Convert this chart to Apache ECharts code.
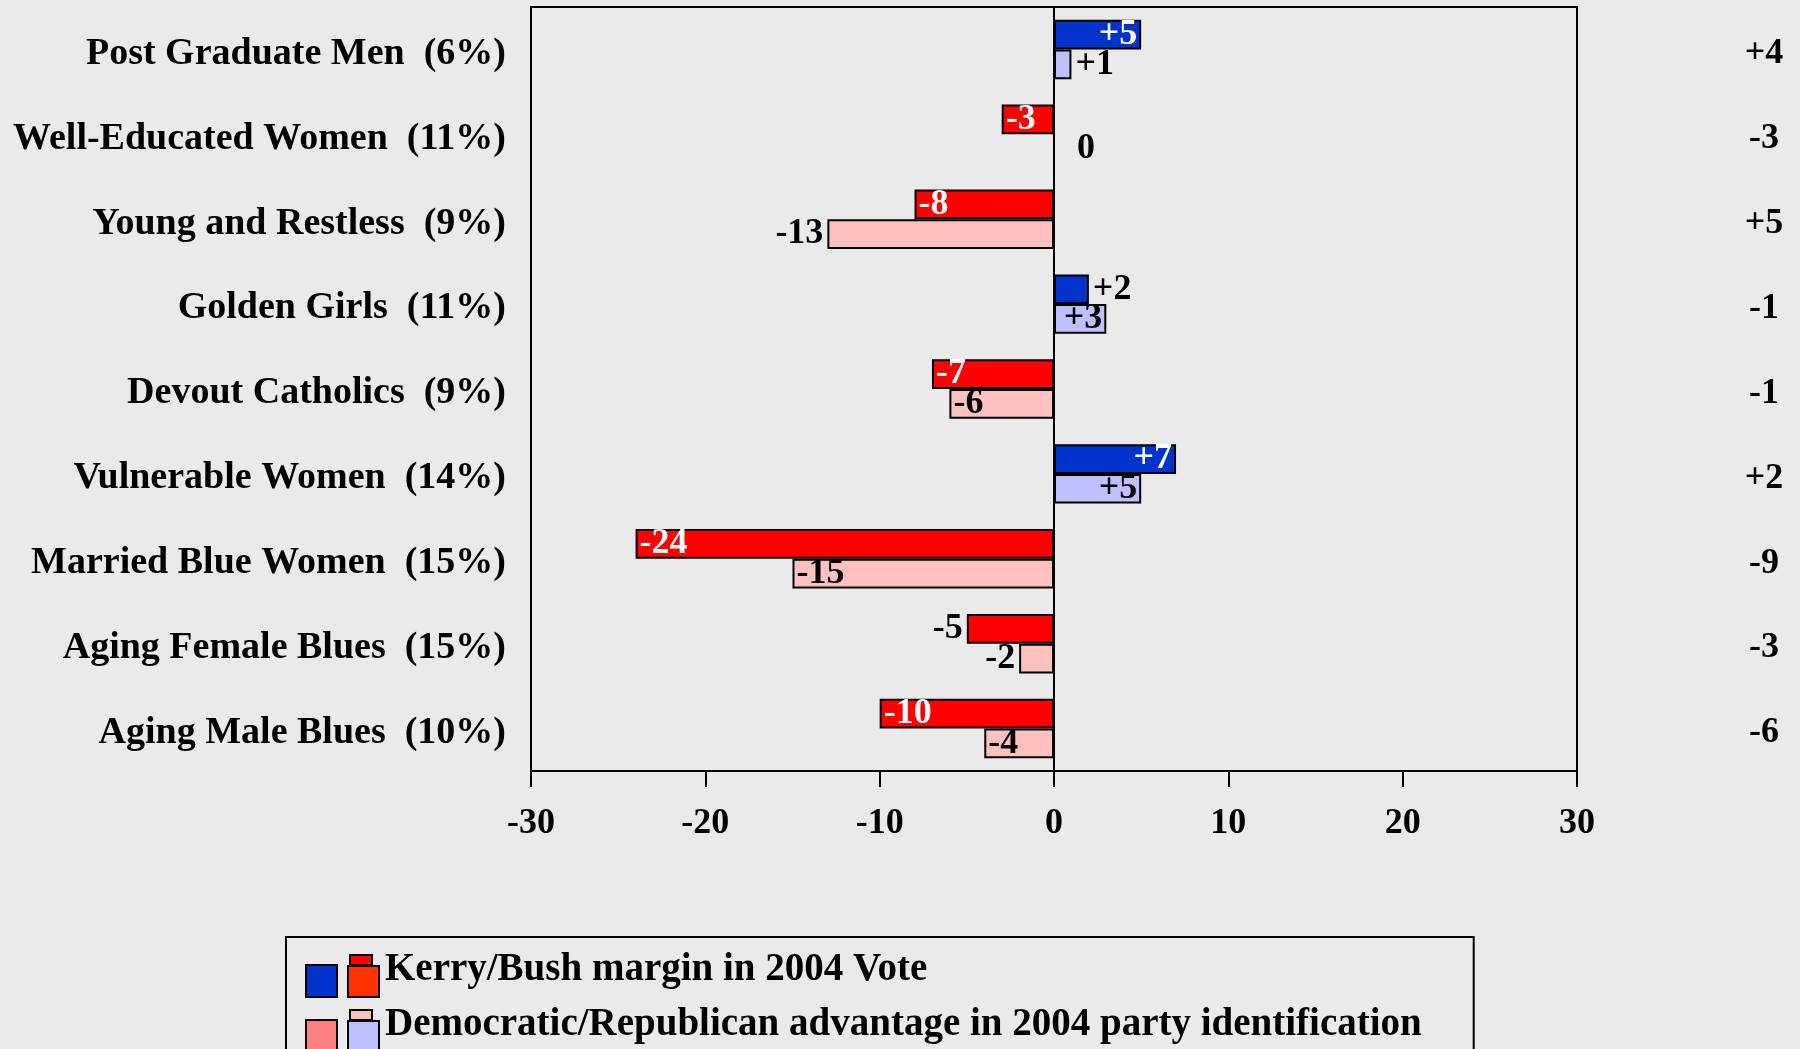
<!DOCTYPE html>
<html>
<head>
<meta charset="utf-8">
<script src="https://cdn.jsdelivr.net/npm/echarts@6/dist/echarts.min.js"></script>
<style>
    html, body { margin: 0; padding: 0; background: #EAEAEA; }
    #chart { width: 1800px; height: 1049px; }
</style>
</head>
<body>
<div id="chart"></div>
<script>
    // segments, top to bottom
    var segments = ['Post Graduate Men', 'Well-Educated Women', 'Young and Restless', 'Golden Girls',
        'Devout Catholics', 'Vulnerable Women', 'Married Blue Women', 'Aging Female Blues', 'Aging Male Blues'];
    var shares = [6, 11, 9, 11, 9, 14, 15, 15, 10];
    // Kerry/Bush margin in 2004 vote
    var voteMargin = [5, -3, -8, 2, -7, 7, -24, -5, -10];
    // Dem/Rep advantage in party id
    var partyAdv = [1, 0, -13, 3, -6, 5, -15, -2, -4];
    // numbers in the right column
    var gapValues = [4, -3, 5, -1, -1, 2, -9, -3, -6];
    var xTicks = [-30, -20, -10, 0, 10, 20, 30];

    // whether the bar label sits inside the bar
    var voteLabelIn = [true, true, true, false, true, true, true, false, true];
    var partyLabelIn = [false, false, false, true, true, true, true, false, true];

    var SERIF = "'Times New Roman', 'Liberation Serif', serif";
    var voteName = 'Kerry/Bush margin in 2004 Vote';
    var partyName = 'Democratic/Republican advantage in 2004 party identification';

    function signed(v) {
        return v > 0 ? '+' + v : '' + v;
    }

    // two swatches side by side, drawn a bit low so the text sits higher
    function legendIcon(big1, big2, small) {
        var svg = "<svg xmlns='http://www.w3.org/2000/svg' width='75' height='56'>" +
            "<g transform='translate(0,12)'>" +
            "<rect x='1' y='11' width='31' height='32' fill='" + big1 + "' stroke='#000' stroke-width='2'/>" +
            "<rect x='43' y='12' width='31' height='31' fill='" + big2 + "' stroke='#000' stroke-width='2'/>" +
            "<rect x='45' y='1' width='22' height='10' fill='" + small + "' stroke='#000' stroke-width='2'/>" +
            "</g></svg>";
        return 'image://data:image/svg+xml;charset=utf-8,' + encodeURIComponent(svg);
    }

    function buildItems(values, inside, insideColor, posColor, negColor) {
        return values.map(function (v, i) {
            var pos;
            if (inside[i]) {
                pos = v > 0 ? 'insideRight' : 'insideLeft';
            } else {
                pos = v >= 0 ? 'right' : 'left';
            }
            return {
                value: v,
                itemStyle: { color: v >= 0 ? posColor : negColor },
                label: {
                    position: pos,
                    distance: v === 0 ? 22 : 4,
                    color: inside[i] ? insideColor : '#000'
                }
            };
        });
    }

    var catLabels = segments.map(function (s, i) {
        return s + '  (' + shares[i] + '%)';
    });

    // labels sit a little below the band centre
    function lowered(size) {
        return {
            formatter: function (v) { return '{s| }\n{t|' + v + '}'; },
            rich: {
                s: { fontSize: 2, lineHeight: 9 },
                t: { fontSize: size, lineHeight: 40, fontFamily: SERIF, fontWeight: 'bold', color: '#000' }
            }
        };
    }

    var barLabel = {
        show: true,
        fontFamily: SERIF,
        fontWeight: 'bold',
        fontSize: 36,
        formatter: function (p) { return signed(p.value); }
    };

    var leftLabel = lowered(38);
    var rightLabel = lowered(36);

    var chart = echarts.init(document.getElementById('chart'));
    chart.setOption({
        backgroundColor: '#EAEAEA',
        animation: false,
        grid: {
            left: 531,
            right: 223,
            top: 7,
            bottom: 278,
            show: true,
            backgroundColor: 'transparent',
            borderColor: '#000',
            borderWidth: 2
        },
        legend: {
            orient: 'vertical',
            left: 286,
            top: 937,
            height: 200,
            itemWidth: 75,
            itemHeight: 56,
            itemGap: -1,
            padding: [5, 52, 20, 19],
            borderColor: '#000',
            borderWidth: 2,
            selectedMode: false,
            textStyle: {
                fontFamily: SERIF,
                fontWeight: 'bold',
                fontSize: 39,
                color: '#000'
            },
            data: [
                { name: voteName, icon: legendIcon('#0033CC', '#FF3300', '#FF0000') },
                { name: partyName, icon: legendIcon('#FF8080', '#C0C0FF', '#FFC0C0') }
            ]
        },
        xAxis: {
            type: 'value',
            min: xTicks[0],
            max: xTicks[xTicks.length - 1],
            interval: 10,
            axisLine: { onZero: false, lineStyle: { color: '#000', width: 2 } },
            axisTick: { show: true, length: 16, lineStyle: { color: '#000', width: 2 } },
            splitLine: { show: false },
            axisLabel: {
                margin: 35,
                color: '#000',
                fontFamily: SERIF,
                fontWeight: 'bold',
                fontSize: 36
            }
        },
        yAxis: [{
            // zero line with its own ticks
            type: 'category',
            inverse: true,
            data: catLabels,
            axisLine: { onZero: true, lineStyle: { color: '#000', width: 2 } },
            axisTick: { length: 16, lineStyle: { color: '#000', width: 2 } },
            axisLabel: { show: false }
        }, {
            type: 'category',
            position: 'left',
            inverse: true,
            data: catLabels,
            axisLine: { onZero: false, lineStyle: { color: '#000', width: 2 } },
            axisTick: { length: 14, lineStyle: { color: '#000', width: 2 } },
            axisLabel: {
                margin: 25,
                formatter: leftLabel.formatter,
                rich: leftLabel.rich
            }
        }, {
            type: 'category',
            position: 'right',
            inverse: true,
            data: gapValues.map(signed),
            axisLine: { onZero: false, lineStyle: { color: '#000', width: 2 } },
            axisTick: { show: false },
            axisLabel: {
                margin: 187,
                align: 'center',
                formatter: rightLabel.formatter,
                rich: rightLabel.rich
            }
        }],
        series: [{
            name: voteName,
            type: 'bar',
            yAxisIndex: 0,
            barGap: '0%',
            barCategoryGap: '30%',
            itemStyle: { borderColor: '#000', borderWidth: 2 },
            label: barLabel,
            data: buildItems(voteMargin, voteLabelIn, '#fff', '#0033CC', '#FF0000')
        }, {
            name: partyName,
            type: 'bar',
            yAxisIndex: 0,
            barGap: '0%',
            barCategoryGap: '30%',
            itemStyle: { borderColor: '#000', borderWidth: 2 },
            label: barLabel,
            data: buildItems(partyAdv, partyLabelIn, '#000', '#C0C0FF', '#FFC0C0')
        }]
    });
</script>
</body>
</html>
